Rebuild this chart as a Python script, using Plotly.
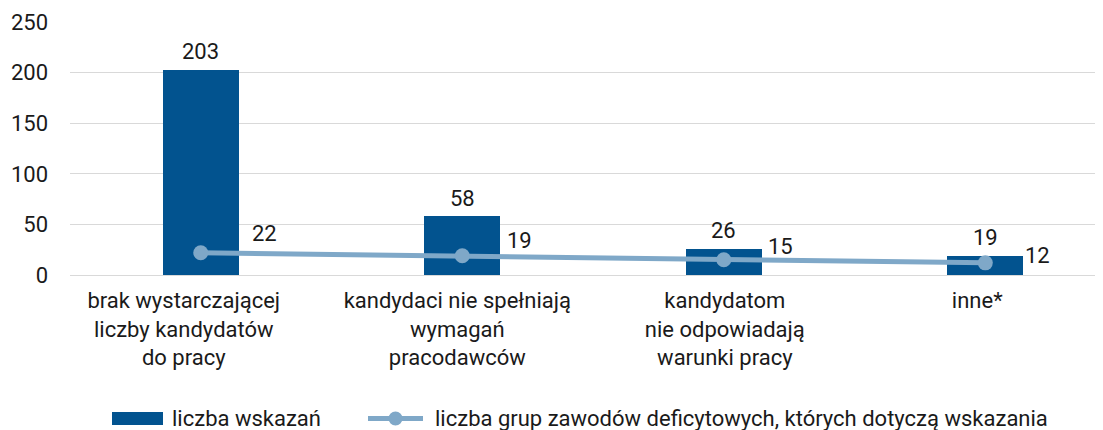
import plotly.graph_objects as go

categories = [
    "brak wystarczającej<br>liczby kandydatów<br>do pracy",
    "kandydaci nie spełniają<br>wymagań<br>pracodawców",
    "kandydatom<br>nie odpowiadają<br>warunki pracy",
    "inne*",
]
wskazania = [203, 58, 26, 19]
grupy = [22, 19, 15, 12]
series_names = ["liczba wskazań", "liczba grup zawodów deficytowych, których dotyczą wskazania"]
y_ticks = [0, 50, 100, 150, 200, 250]

BAR_COLOR = "#02538F"
LINE_COLOR = "#7FA8C8"
FONT = "Roboto"
TXT = "#1a1a1a"
FS = 22

x_idx = list(range(len(categories)))

fig = go.Figure()
fig.add_trace(go.Bar(
    x=x_idx, y=wskazania, name=series_names[0],
    marker=dict(color=BAR_COLOR, line=dict(width=0)),
    width=0.29, showlegend=False,
))
fig.add_trace(go.Scatter(
    x=x_idx, y=grupy, name=series_names[1],
    mode="lines+markers",
    line=dict(color=LINE_COLOR, width=5),
    marker=dict(color=LINE_COLOR, size=15),
    showlegend=False,
))

# bar value labels
for xi, v in zip(x_idx, wskazania):
    fig.add_annotation(x=xi, y=v, text=str(v), showarrow=False,
                       yanchor="middle", yshift=18,
                       font=dict(family=FONT, size=FS, color=TXT))
# line value labels (pixel offsets from the markers)
line_shifts = [(64, 19), (57, 15), (57, 13), (52, 7)]
for xi, v, (dx, dy) in zip(x_idx, grupy, line_shifts):
    fig.add_annotation(x=xi, y=v, text=str(v), showarrow=False,
                       xanchor="center", yanchor="middle",
                       xshift=dx, yshift=dy,
                       font=dict(family=FONT, size=FS, color=TXT))

# legend drawn below the plot (paper coords; plot area is 1033 x 253 px)
PW, PH = 1033.0, 253.0
def px_x(p):
    return (p - 70) / PW
def px_y(p):
    return (275 - p) / PH

ly = 418.5
fig.add_shape(type="rect", xref="paper", yref="paper",
              x0=px_x(112), x1=px_x(163), y0=px_y(ly + 6.5), y1=px_y(ly - 6.5),
              fillcolor=BAR_COLOR, line=dict(width=0))
fig.add_annotation(xref="paper", yref="paper", x=px_x(170), y=px_y(ly),
                   xanchor="left", yanchor="middle", showarrow=False,
                   text=series_names[0], font=dict(family=FONT, size=FS, color=TXT))
fig.add_shape(type="line", xref="paper", yref="paper",
              x0=px_x(368), x1=px_x(423), y0=px_y(ly), y1=px_y(ly),
              line=dict(color=LINE_COLOR, width=5))
fig.add_shape(type="circle", xref="paper", yref="paper",
              x0=px_x(395.5 - 7), x1=px_x(395.5 + 7), y0=px_y(ly + 7), y1=px_y(ly - 7),
              fillcolor=LINE_COLOR, line=dict(width=0))
fig.add_annotation(xref="paper", yref="paper", x=px_x(433), y=px_y(ly),
                   xanchor="left", yanchor="middle", showarrow=False,
                   text=series_names[1], font=dict(family=FONT, size=FS, color=TXT))

# category label placement (slight offsets as in the original)
tick_offsets = [-0.065, -0.019, 0.004, -0.031]
tick_pos = [xi + o for xi, o in zip(x_idx, tick_offsets)]

fig.update_layout(
    width=1095, height=422,
    margin=dict(l=62, r=0, t=14, b=155, autoexpand=False),
    paper_bgcolor="white", plot_bgcolor="white",
    font=dict(family=FONT, size=FS, color=TXT),
    bargap=0,
    showlegend=False,
)
fig.update_xaxes(
    tickmode="array", tickvals=tick_pos, ticktext=categories,
    range=[-0.5, 3.45], showgrid=False, showline=False, ticks="",
    ticklabelstandoff=10,
    tickfont=dict(family=FONT, size=FS, color=TXT), automargin=False,
)
fig.update_yaxes(
    range=[0, 250], tickvals=y_ticks, showgrid=True, gridcolor="#D9D9D9", gridwidth=1,
    zeroline=True, zerolinecolor="#D9D9D9", zerolinewidth=1, showline=False,
    ticks="", ticklabelstandoff=21, automargin=False,
    tickfont=dict(family=FONT, size=FS, color=TXT),
)

fig.write_html("out.html")
